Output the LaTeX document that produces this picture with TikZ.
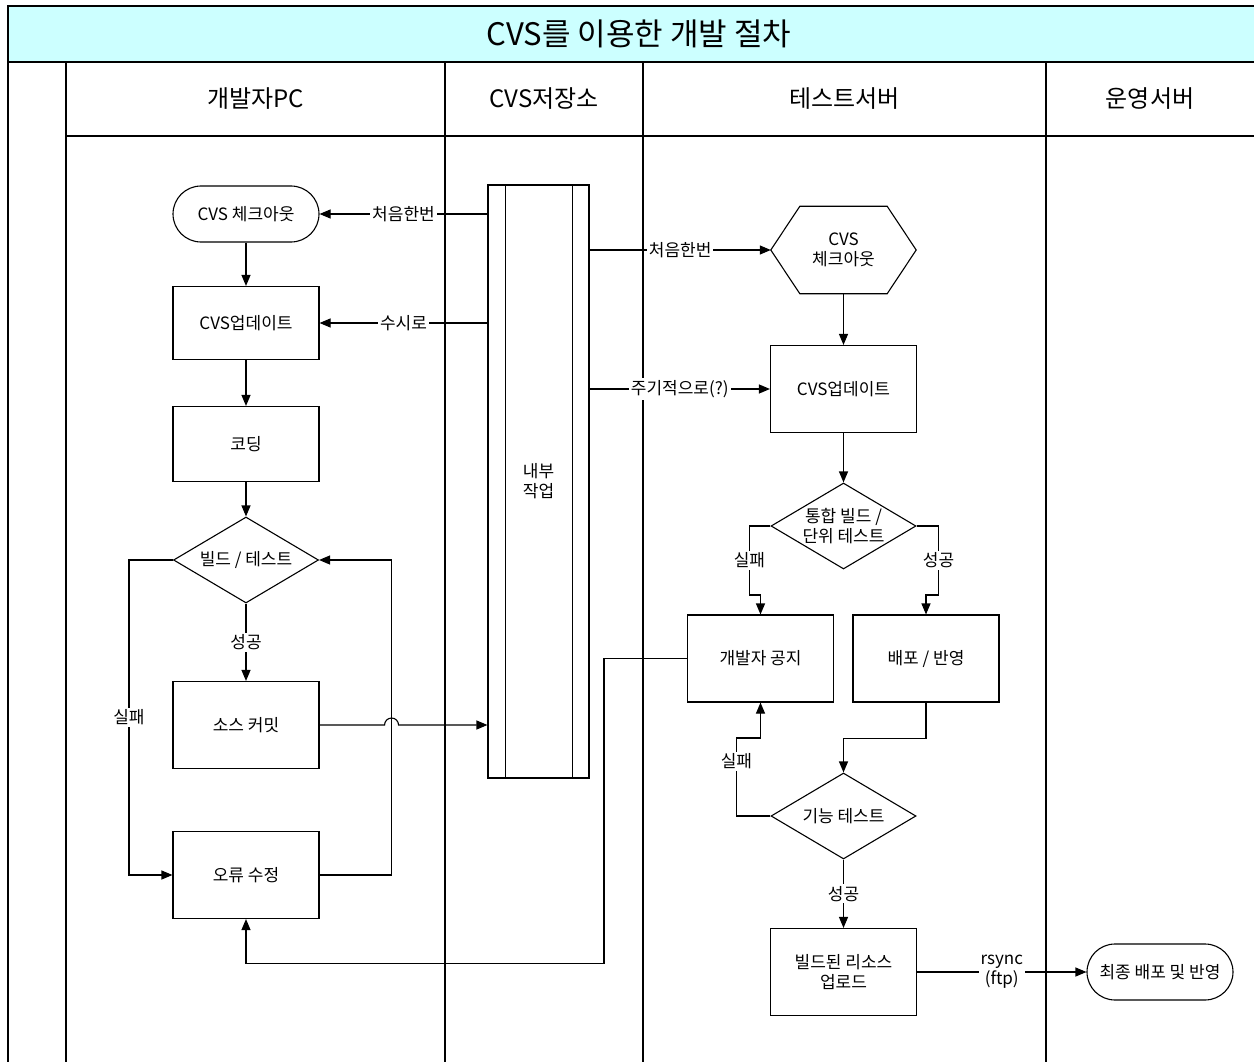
\documentclass[tikz,border=0pt]{standalone}
\usepackage{fontspec}
\newfontfamily\kr{Noto Sans CJK KR}
\usetikzlibrary{arrows.meta,shapes.geometric}
\definecolor{titlebg}{HTML}{CCFFFF}

\begin{document}
\begin{tikzpicture}[x=1pt,y=-1pt,
		font=\kr\fontsize{17}{20}\selectfont,
		every node/.style={inner sep=0pt},
		proc/.style={draw,line width=1.1pt,minimum width=146,minimum height=87,align=center},
		term/.style={proc,minimum height=56,rounded corners=28},
		dec/.style={draw,diamond,line width=1.1pt,minimum width=145,minimum height=86},
		head/.style={font=\kr\fontsize{24}{28}\selectfont},
		lbl/.style={fill=white,inner sep=2pt,align=center},
		arr/.style={line width=1.1pt,-{Triangle[length=11pt,width=9pt]}},
		lane/.style={line width=1.4pt}]
		\useasboundingbox (0,0) rectangle (1254,1062);
		\fill[titlebg] (8,6) rectangle (1254,62);
		\draw[lane] (8,1062) -- (8,6) -- (1254,6);
		\draw[lane] (8,62) -- (1254,62);
		\draw[lane] (66,136) -- (1254,136);
		\foreach \x in {66,445,643,1046}
			\draw[lane] (\x,62) -- (\x,1062);
		\node[font=\kr\fontsize{31}{36}\selectfont] (title) at (639,34) {CVS를 이용한 개발 절차};
		\foreach \x/\t/\n in {255.5/개발자PC/hdev, 544/CVS저장소/hcvs, 844.5/테스트서버/htest, 1150/운영서버/hprod}
			\node[head] (\n) at (\x,99) {\t};
		
		\node[term] (chk) at (246,214) {CVS 체크아웃};
		\node[proc,minimum height=73] (upd) at (246,323) {CVS업데이트};
		\node[proc,minimum height=75] (code) at (246,444) {코딩};
		\node[dec,label=center:빌드 / 테스트] (build) at (246,560) {};
		\node[proc] (commit) at (246,725) {소스 커밋};
		\node[proc] (fix) at (246,875) {오류 수정};
		
		\node[proc,minimum width=101,minimum height=593] (repo) at (538.5,481.5) {내부\\작업};
		\draw[line width=1.1pt] ([xshift=18]repo.north west) -- ([xshift=18]repo.south west);
		\draw[line width=1.1pt] ([xshift=-17]repo.north east) -- ([xshift=-17]repo.south east);
		
		\node[minimum width=145,minimum height=87,align=center] (hex) at (843.5,250) {CVS\\체크아웃};
		\draw[line width=1.1pt] ([xshift=29]hex.north west) -- ([xshift=-29]hex.north east) -- (hex.east)
			-- ([xshift=-29]hex.south east) -- ([xshift=29]hex.south west) -- (hex.west) -- cycle;
		\node[proc] (tupd) at (843.5,389) {CVS업데이트};
		\node[dec,label={[align=center]center:통합 빌드 /\\단위 테스트}] (integ) at (843.5,526) {};
		\node[proc] (notify) at (760.5,658.5) {개발자 공지};
		\node[proc] (deploy) at (926,658.5) {배포 / 반영};
		\node[dec,label=center:기능 테스트] (func) at (843.5,816) {};
		\node[proc,align=center] (upload) at (843.5,972) {빌드된 리소스\\업로드};
		\node[term] (final) at (1160,972) {최종 배포 및 반영};
		
		\draw[arr] (repo.west |- chk.east) -- node[lbl]{처음한번} (chk.east);
		\draw[arr] (repo.west |- upd.east) -- node[lbl]{수시로} (upd.east);
		\draw[arr] (chk) -- (upd);
		\draw[arr] (upd) -- (code);
		\draw[arr] (code) -- (build);
		\draw[arr] (build) -- node[lbl]{성공} (commit);
		\draw[arr] (build.west) -- ++(-44,0) |- node[lbl,pos=0.25]{실패} (fix.west);
		\draw[arr] (fix.east) -- ++(72,0) |- (build.east);
		\draw[arr] (commit.east) -- ++(65,0) arc[start angle=180,end angle=360,radius=7] -- (repo.west |- commit.east);
		
		\draw[arr] (repo.east |- hex.west) -- node[lbl]{처음한번} (hex.west);
		\draw[arr] (repo.east |- tupd.west) -- node[lbl]{주기적으로(?)} (tupd.west);
		\draw[arr] (hex) -- (tupd);
		\draw[arr] (tupd) -- (integ);
		\draw[arr] (integ.west) -- ++(-21,0) -- node[lbl]{실패} ++(0,69) -| (notify.north);
		\draw[arr] (integ.east) -- ++(22,0) -- node[lbl]{성공} ++(0,69) -| (deploy.north);
		\draw[arr] (deploy.south) -- ++(0,36) -| (func.north);
		\draw[arr] (func.west) -- ++(-34,0) -- node[lbl,pos=0.7]{실패} ++(0,-78) -| (notify.south);
		\draw[arr] (func) -- node[lbl]{성공} (upload);
		\draw[arr] (notify.west) -- ++(-83,0) -- ++(0,305) -| (fix.south);
		\draw[arr] (upload) -- node[lbl]{rsync\\(ftp)} (final);
\end{tikzpicture}
\end{document}
